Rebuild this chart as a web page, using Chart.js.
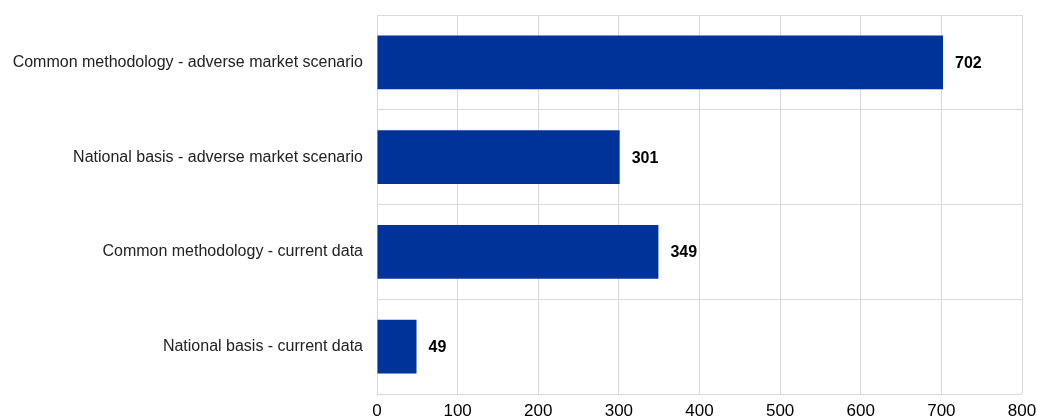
<!DOCTYPE html>
<html lang="en">
<head>
<meta charset="UTF-8">
<title>Capital shortfall by approach</title>
<style>
  * { margin: 0; padding: 0; box-sizing: border-box; }
  body { background: #fff; width: 1037px; height: 419px; overflow: hidden; }
  .wrap { position: relative; width: 1037px; height: 419px; }
  canvas { display: block; }
</style>
</head>
<body>
<div class="wrap"><canvas id="c"></canvas></div>
<script src="https://cdn.jsdelivr.net/npm/chart.js@4.4.1/dist/chart.umd.min.js"></script>
<script>
const categories = [
  'Common methodology - adverse market scenario',
  'National basis - adverse market scenario',
  'Common methodology - current data',
  'National basis - current data'
];
const values = [702, 301, 349, 49];
const xTicks = [0, 100, 200, 300, 400, 500, 600, 700, 800];

const FONT = '"Liberation Sans", Arial, sans-serif';

// bold value printed just past the end of each bar
const valueLabels = {
  id: 'valueLabels',
  afterDatasetsDraw(chart) {
    const ctx = chart.ctx;
    const meta = chart.getDatasetMeta(0);
    ctx.save();
    ctx.font = 'bold 16px ' + FONT;
    ctx.fillStyle = '#000';
    ctx.textAlign = 'left';
    ctx.textBaseline = 'middle';
    meta.data.forEach((bar, i) => {
      ctx.fillText(String(values[i]), bar.x + 12, bar.y + 1);
    });
    ctx.restore();
  }
};

new Chart(document.getElementById('c'), {
  type: 'bar',
  data: {
    labels: categories,
    datasets: [{
      data: values,
      backgroundColor: '#003399',
      borderWidth: 0,
      barPercentage: 0.565,
      categoryPercentage: 1
    }]
  },
  options: {
    indexAxis: 'y',
    responsive: true,
    maintainAspectRatio: false,
    animation: false,
    layout: { padding: { left: 0, right: 15, top: 15, bottom: 0 } },
    plugins: { legend: { display: false }, tooltip: { enabled: false } },
    scales: {
      x: {
        min: 0, max: 800,
        afterBuildTicks: s => { s.ticks = xTicks.map(v => ({ value: v })); },
        grid: { color: '#d9d9d9', drawTicks: false },
        border: { display: false },
        ticks: { color: '#000', font: { family: FONT, size: 17 }, padding: 7 },
        afterFit: s => { s.height = 25; s.paddingLeft = 0; s.paddingRight = 0; }
      },
      y: {
        grid: { color: '#d9d9d9', drawTicks: false, offset: true },
        border: { display: false },
        ticks: { color: '#222', font: { family: FONT, size: 16 }, padding: 14 },
        afterFit: s => { s.width = 377; s.paddingTop = 0; s.paddingBottom = 0; }
      }
    }
  },
  plugins: [valueLabels]
});
</script>
</body>
</html>
